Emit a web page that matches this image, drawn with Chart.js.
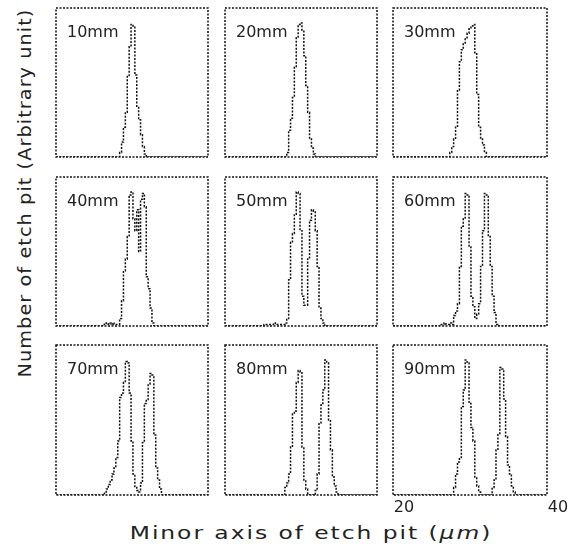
<!DOCTYPE html>
<html>
<head>
<meta charset="utf-8">
<script src="https://cdn.jsdelivr.net/npm/chart.js@4"></script>
<style>
    body { margin: 0; background: #fff; }
    #figure { position: relative; width: 568px; height: 554px; overflow: hidden; }
    .panel { position: absolute; }
    .axisTitle {
        position: absolute;
        font-family: "DejaVu Sans", sans-serif;
        font-size: 18px;
        color: #222;
        white-space: nowrap;
    }
    #yTitle { left: 24px; top: 193px; letter-spacing: 1px; transform: translate(-50%, -50%) rotate(-90deg) scaleX(1.07); }
    #xTitle { left: 311px; top: 532px; letter-spacing: 1.5px; transform: translate(-50%, -50%) scaleX(1.3); }
</style>
</head>
<body>
<div id="figure">
    <div id="yTitle" class="axisTitle">Number of etch pit (Arbitrary unit)</div>
    <div id="xTitle" class="axisTitle">Minor axis of etch pit (<i>μm</i>)</div>
</div>

<script>
// histogram bins are 0.25 um wide, each series starts at its own bin centre
var binWidth = 0.25;
var xMin = 20;
var xMax = 40;
var xTicks = [20, 40];

var labels = ["10mm", "20mm", "30mm", "40mm", "50mm", "60mm", "70mm", "80mm", "90mm"];

var start10 = 28.25;
var counts10 = [0, 3, 10, 20, 30, 54, 74, 89, 88, 55, 34, 25, 15, 7, 2, 0];

var start20 = 28.0;
var counts20 = [0, 3, 18, 26, 40, 60, 80, 89, 90, 85, 68, 48, 30, 12, 6, 2, 0];

var start30 = 27.25;
var counts30 = [0, 3, 7, 12, 20, 45, 64, 72, 76, 80, 83, 86, 88, 89, 70, 42, 20, 12, 8, 3, 0];

var start40 = 26.0;
var counts40 = [0, 1, 2, 1, 2, 1, 2, 1, 1, 1, 5, 17, 37, 45, 60, 88, 90, 72, 64, 78, 50, 85, 89, 80, 33, 25, 12, 2, 0];

var start50 = 25.0;
var counts50 = [0, 1, 1, 1, 1, 1, 2, 1, 1, 1, 1, 1, 2, 5, 31, 56, 62, 75, 90, 89, 64, 20, 14, 14, 45, 71, 78, 77, 64, 40, 12, 5, 2, 0];

var start60 = 26.0;
var counts60 = [0, 1, 1, 2, 1, 1, 2, 1, 7, 10, 15, 40, 67, 72, 89, 88, 53, 20, 13, 5, 8, 15, 40, 64, 89, 88, 60, 40, 20, 9, 1, 0];

var start70 = 26.25;
var counts70 = [0, 2, 4, 7, 10, 14, 18, 25, 36, 65, 68, 75, 89, 88, 68, 36, 14, 5, 3, 2, 8, 35, 61, 63, 74, 81, 80, 40, 18, 10, 4, 0];

var start80 = 27.75;
var counts80 = [0, 5, 8, 14, 32, 54, 56, 75, 83, 82, 32, 10, 4, 1, 0, 0, 0, 3, 14, 48, 60, 70, 90, 88, 50, 30, 12, 6, 2, 0];

var start90 = 27.75;
var counts90 = [0, 5, 14, 22, 25, 59, 70, 90, 88, 61, 45, 36, 12, 6, 2, 0, 0, 0, 0, 0, 0, 5, 10, 30, 41, 85, 84, 64, 39, 20, 14, 6, 2, 0];

var starts = [start10, start20, start30, start40, start50, start60, start70, start80, start90];
var counts = [counts10, counts20, counts30, counts40, counts50, counts60, counts70, counts80, counts90];

// panel boxes on the page: column lefts/widths, row tops/heights
var colLeft = [56, 225, 393];
var colWidth = [152, 152, 154];
var rowTop = [8, 177, 345];
var rowHeight = [149, 149, 150];
var pad = 4;
var tickArea = 22;
var tickRoom = 20;   // extra room on the right so the "40" label is not clipped

// dotted frame round the plot area plus the thickness label
var panelFrame = {
    id: 'panelFrame',
    afterDraw: function (chart, args, opts) {
        var ctx = chart.ctx;
        var a = chart.chartArea;
        ctx.save();
        ctx.strokeStyle = '#111';
        ctx.lineWidth = 1.5;
        ctx.setLineDash([2, 1.5]);
        ctx.strokeRect(a.left, a.top, a.right - a.left, a.bottom - a.top);
        ctx.setLineDash([]);
        ctx.fillStyle = '#222';
        ctx.font = '16px "DejaVu Sans"';
        ctx.textBaseline = 'middle';
        ctx.fillText(opts.text, a.left + 11, a.top + 25);
        ctx.restore();
    }
};

function each(list, fn) {
    for (var i = 0; i < list.length; i++) fn(i, list[i]);
}

function histogramPoints(start, values) {
    var pts = [{x: xMin, y: 0}];
    each(values, function (i, v) {
        pts.push({x: start + i * binWidth, y: v});
    });
    pts.push({x: xMax, y: 0});
    return pts;
}

var figure = document.getElementById("figure");

each(labels, function (index, label) {
    var row = Math.floor(index / 3);
    var col = index % 3;
    var showTicks = (index === 8);
    var extraRight = showTicks ? tickRoom : 0;

    var box = document.createElement("div");
    box.className = "panel";
    box.style.left = (colLeft[col] - pad) + "px";
    box.style.top = (rowTop[row] - pad) + "px";
    box.style.width = (colWidth[col] + 2 * pad + extraRight) + "px";
    box.style.height = (rowHeight[row] + 2 * pad + (showTicks ? tickArea : 0)) + "px";
    var canvas = document.createElement("canvas");
    box.appendChild(canvas);
    figure.appendChild(box);

    new Chart(canvas.getContext("2d"), {
        type: 'line',
        data: {
            datasets: [{
                label: label,
                data: histogramPoints(starts[index], counts[index]),
                stepped: 'middle',
                borderColor: '#111',
                borderWidth: 1.5,
                borderDash: [2, 1.5],
                pointRadius: 0,
                fill: false
            }]
        },
        options: {
            responsive: true,
            maintainAspectRatio: false,
            animation: false,
            layout: { padding: { left: pad, top: pad, bottom: pad, right: pad + extraRight } },
            plugins: {
                legend: { display: false },
                tooltip: { enabled: false },
                panelFrame: { text: label }
            },
            scales: {
                x: {
                    type: 'linear',
                    min: xMin,
                    max: xMax,
                    display: showTicks,
                    grid: { display: false, drawTicks: false },
                    border: { display: false },
                    afterBuildTicks: function (scale) {
                        scale.ticks = xTicks.map(function (v) { return {value: v}; });
                    },
                    afterFit: function (scale) {
                        if (!showTicks) return;
                        scale.height = tickArea;
                        scale.paddingLeft = 0;
                        scale.paddingRight = 0;
                    },
                    ticks: {
                        autoSkip: false,
                        maxRotation: 0,
                        labelOffset: 11,
                        padding: 3,
                        color: '#222',
                        font: { family: 'DejaVu Sans', size: 16 }
                    }
                },
                y: {
                    min: 0,
                    max: 100,
                    display: false
                }
            }
        },
        plugins: [panelFrame]
    });
});
</script>
</body>
</html>
